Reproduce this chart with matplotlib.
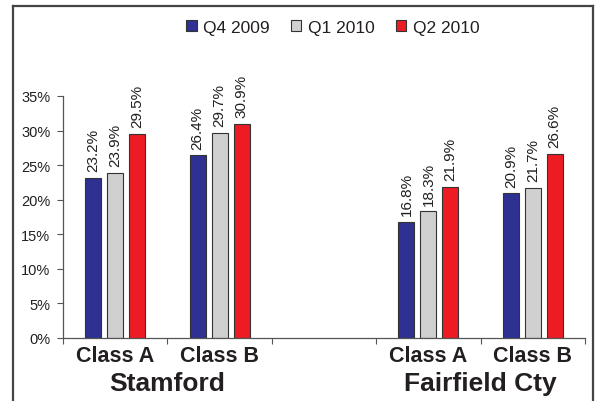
import numpy as np
import matplotlib.pyplot as plt
from matplotlib.lines import Line2D

plt.rcParams['font.family'] = ['Liberation Sans', 'DejaVu Sans']

# Data
kategoriak = ['Class A', 'Class B', 'Class A', 'Class B']
csoportok = ['Stamford', 'Fairfield Cty']
sorozatok = ['Q4 2009', 'Q1 2010', 'Q2 2010']
q4_2009 = [23.2, 26.4, 16.8, 20.9]
q1_2010 = [23.9, 29.7, 18.3, 21.7]
q2_2010 = [29.5, 30.9, 21.9, 26.6]
ertekek = [q4_2009, q1_2010, q2_2010]
szinek = ['#2E3192', '#D0D0D0', '#ED1C24']

# Slot positions: empty slot between the two towns
helyek = np.array([0.5, 1.5, 3.5, 4.5])
szelesseg = 0.153
eltolas = 0.21
szoveg_szin = '#231F20'

fig = plt.figure(figsize=(5.97, 4.02), dpi=100)
ax = fig.add_axes([63 / 597, 63 / 402, 522 / 597, 242 / 402])

for i, (nev, adat, szin) in enumerate(zip(sorozatok, ertekek, szinek)):
    x = helyek + (i - 1) * eltolas
    y = np.array(adat) / 100
    ax.bar(x, y, width=szelesseg, color=szin, edgecolor='#333333',
           linewidth=0.8, label=nev)
    for xi, v in zip(x, adat):
        ax.annotate(f'{v:.1f}%', (xi, v / 100), xytext=(0, 5),
                    textcoords='offset points', rotation=90, ha='center',
                    va='bottom', fontsize=11, color=szoveg_szin,
                    annotation_clip=False)

ax.set_xlim(0, 5)
ax.set_ylim(0, 0.35)
ax.set_yticks(np.arange(0, 0.36, 0.05))
ax.set_yticklabels([f'{int(round(t * 100))}%' for t in np.arange(0, 0.36, 0.05)])
ax.set_xticks(np.arange(0, 6))
ax.set_xticklabels([])
ax.tick_params(axis='both', direction='out', length=4, width=0.8,
               color='#555555', labelsize=10.5, labelcolor=szoveg_szin)
ax.tick_params(axis='y', pad=5)
for s in ['top', 'right']:
    ax.spines[s].set_visible(False)
for s in ['left', 'bottom']:
    ax.spines[s].set_color('#555555')
    ax.spines[s].set_linewidth(0.9)

# Category and town labels under the axis
for x, k in zip(helyek, kategoriak):
    ax.text(x, -0.026, k, transform=ax.transData, ha='center', va='center',
            fontsize=15.5, fontweight='bold', color=szoveg_szin)
for x, c in zip([1.0, 4.0], csoportok):
    ax.text(x, -0.065, c, transform=ax.transData, ha='center', va='center',
            fontsize=19, fontweight='bold', color=szoveg_szin)

ax.legend(loc='center', bbox_to_anchor=(333 / 597, 1 - 28 / 402),
          bbox_transform=fig.transFigure, ncol=3, frameon=False,
          fontsize=12.5, handlelength=0.6, handleheight=0.6,
          handletextpad=0.4, columnspacing=1.2, labelcolor=szoveg_szin)

# Outer frame (open at the bottom)
keret = dict(color='#444444', linewidth=1.6, transform=fig.transFigure)
fig.add_artist(Line2D([13 / 597, 13 / 597], [0, 1 - 7 / 402], **keret))
fig.add_artist(Line2D([13 / 597, 593 / 597], [1 - 7 / 402, 1 - 7 / 402], **keret))
fig.add_artist(Line2D([593 / 597, 593 / 597], [0, 1 - 7 / 402], **keret))

fig.savefig('out.png', dpi=100)
